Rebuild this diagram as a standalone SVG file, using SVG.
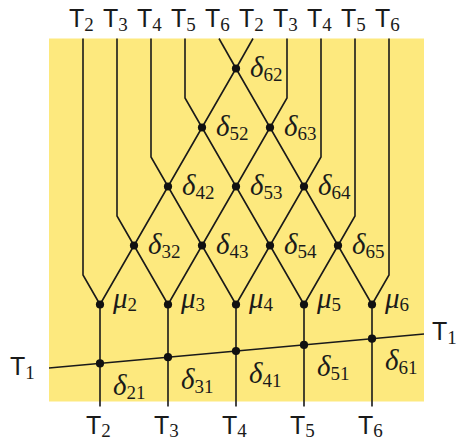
<svg xmlns="http://www.w3.org/2000/svg" width="457" height="440" viewBox="0 0 457 440">
<style>
.bg{fill:#fde97e}
.ln{fill:none;stroke:#1a1a1a;stroke-width:1.6;stroke-linejoin:miter}
.dot{fill:#111}
.m{font-family:'Liberation Serif','DejaVu Serif',serif;font-style:italic;font-size:29px;fill:#1a1a1a}
.s{font-family:'Liberation Serif','DejaVu Serif',serif;font-style:normal;font-size:19px}
.T{font-family:'Liberation Sans','DejaVu Sans',sans-serif;font-size:25px;fill:#1a1a1a}
</style>
<defs><circle id="dt" class="dot" r="4.1"/></defs>
<rect class="bg" x="49" y="38.5" width="375" height="363"/>
<g id="connectors">
<polyline class="ln" points="83,38.5 83,275 100,304.5"/>
<polyline class="ln" points="117,38.5 117,216 134,245.5"/>
<polyline class="ln" points="151,38.5 151,157 168,186.5"/>
<polyline class="ln" points="185,38.5 185,98 202,127.5"/>
<polyline class="ln" points="219,38.5 236,68.5"/>
<polyline class="ln" points="253,38.5 236,68.5"/>
<polyline class="ln" points="287,38.5 287,98 270,127.5"/>
<polyline class="ln" points="321,38.5 321,157 304,186.5"/>
<polyline class="ln" points="355,38.5 355,216 338,245.5"/>
<polyline class="ln" points="389,38.5 389,275 372,304.5"/>
<path class="ln" d="M236,68.5 L134,245.5 L100,304.5 M236,68.5 L338,245.5 L372,304.5
M202,127.5 L304,304.5 M270,127.5 L168,304.5
M168,186.5 L236,304.5 M304,186.5 L236,304.5
M134,245.5 L168,304.5 M338,245.5 L304,304.5"/>
<path class="ln" d="M100,304.5 V406.5 M168,304.5 V406.5 M236,304.5 V406.5 M304,304.5 V406.5 M372,304.5 V406.5"/>
<line class="ln" x1="49" y1="368" x2="424" y2="334"/>
</g>
<g id="d62"><use href="#dt" x="236" y="68.5"/><text class="m" x="250" y="76.5">δ<tspan class="s" dy="4">62</tspan></text></g>
<g id="d52"><use href="#dt" x="202" y="127.5"/><text class="m" x="216" y="135.5">δ<tspan class="s" dy="4">52</tspan></text></g>
<g id="d63"><use href="#dt" x="270" y="127.5"/><text class="m" x="284" y="135.5">δ<tspan class="s" dy="4">63</tspan></text></g>
<g id="d42"><use href="#dt" x="168" y="186.5"/><text class="m" x="182" y="194.5">δ<tspan class="s" dy="4">42</tspan></text></g>
<g id="d53"><use href="#dt" x="236" y="186.5"/><text class="m" x="250" y="194.5">δ<tspan class="s" dy="4">53</tspan></text></g>
<g id="d64"><use href="#dt" x="304" y="186.5"/><text class="m" x="318" y="194.5">δ<tspan class="s" dy="4">64</tspan></text></g>
<g id="d32"><use href="#dt" x="134" y="245.5"/><text class="m" x="148" y="253.5">δ<tspan class="s" dy="4">32</tspan></text></g>
<g id="d43"><use href="#dt" x="202" y="245.5"/><text class="m" x="216" y="253.5">δ<tspan class="s" dy="4">43</tspan></text></g>
<g id="d54"><use href="#dt" x="270" y="245.5"/><text class="m" x="284" y="253.5">δ<tspan class="s" dy="4">54</tspan></text></g>
<g id="d65"><use href="#dt" x="338" y="245.5"/><text class="m" x="352" y="253.5">δ<tspan class="s" dy="4">65</tspan></text></g>
<g id="mu2"><use href="#dt" x="100" y="304.5"/><text class="m" x="113" y="308">μ<tspan class="s" dy="3">2</tspan></text></g>
<g id="mu3"><use href="#dt" x="168" y="304.5"/><text class="m" x="181" y="308">μ<tspan class="s" dy="3">3</tspan></text></g>
<g id="mu4"><use href="#dt" x="236" y="304.5"/><text class="m" x="249" y="308">μ<tspan class="s" dy="3">4</tspan></text></g>
<g id="mu5"><use href="#dt" x="304" y="304.5"/><text class="m" x="317" y="308">μ<tspan class="s" dy="3">5</tspan></text></g>
<g id="mu6"><use href="#dt" x="372" y="304.5"/><text class="m" x="385" y="308">μ<tspan class="s" dy="3">6</tspan></text></g>
<g id="d21"><use href="#dt" x="100" y="363.4"/><text class="m" x="113" y="395">δ<tspan class="s" dy="4">21</tspan></text></g>
<g id="d31"><use href="#dt" x="168" y="357.2"/><text class="m" x="181" y="388.7">δ<tspan class="s" dy="4">31</tspan></text></g>
<g id="d41"><use href="#dt" x="236" y="351"/><text class="m" x="249" y="382.5">δ<tspan class="s" dy="4">41</tspan></text></g>
<g id="d51"><use href="#dt" x="304" y="344.9"/><text class="m" x="317" y="376.4">δ<tspan class="s" dy="4">51</tspan></text></g>
<g id="d61"><use href="#dt" x="372" y="338.7"/><text class="m" x="385" y="370.2">δ<tspan class="s" dy="4">61</tspan></text></g>
<g id="top-labels">
<text class="T" x="69" y="26.5">T<tspan class="s" dy="4">2</tspan></text>
<text class="T" x="103" y="26.5">T<tspan class="s" dy="4">3</tspan></text>
<text class="T" x="137" y="26.5">T<tspan class="s" dy="4">4</tspan></text>
<text class="T" x="171" y="26.5">T<tspan class="s" dy="4">5</tspan></text>
<text class="T" x="205" y="26.5">T<tspan class="s" dy="4">6</tspan></text>
<text class="T" x="239" y="26.5">T<tspan class="s" dy="4">2</tspan></text>
<text class="T" x="273" y="26.5">T<tspan class="s" dy="4">3</tspan></text>
<text class="T" x="307" y="26.5">T<tspan class="s" dy="4">4</tspan></text>
<text class="T" x="341" y="26.5">T<tspan class="s" dy="4">5</tspan></text>
<text class="T" x="375" y="26.5">T<tspan class="s" dy="4">6</tspan></text>
</g>
<g id="bottom-labels">
<text class="T" x="86" y="434">T<tspan class="s" dy="3">2</tspan></text>
<text class="T" x="154" y="434">T<tspan class="s" dy="3">3</tspan></text>
<text class="T" x="222" y="434">T<tspan class="s" dy="3">4</tspan></text>
<text class="T" x="290" y="434">T<tspan class="s" dy="3">5</tspan></text>
<text class="T" x="358" y="434">T<tspan class="s" dy="3">6</tspan></text>
</g>
<g id="T1-labels">
<text class="T" x="10" y="375">T<tspan class="s" dy="3.5">1</tspan></text>
<text class="T" x="432" y="340">T<tspan class="s" dy="3.5">1</tspan></text>
</g>
</svg>
